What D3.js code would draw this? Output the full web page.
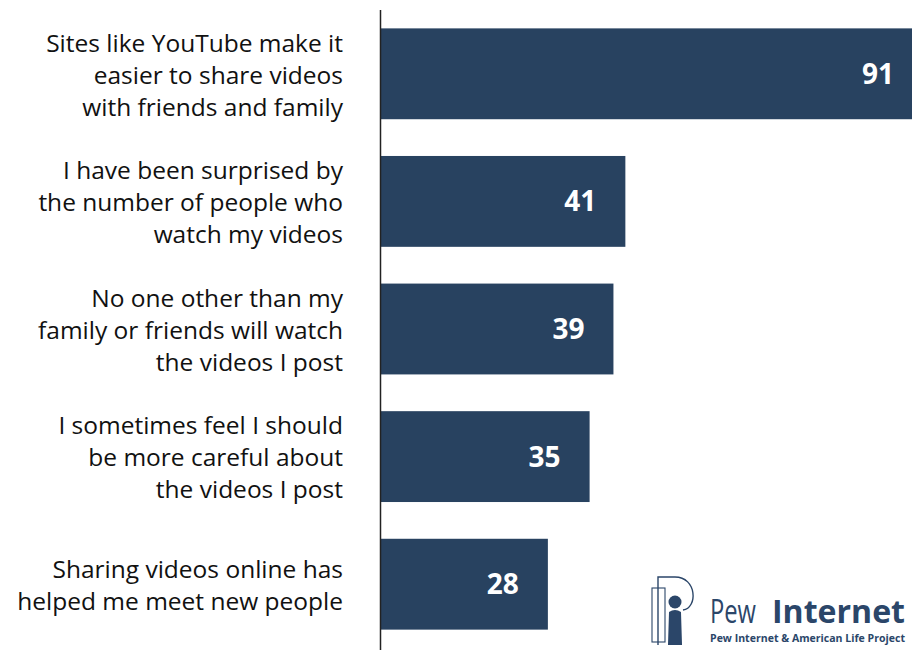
<!DOCTYPE html>
<html>
<head>
<meta charset="utf-8">
<script src="https://cdn.jsdelivr.net/npm/d3@7"></script>
<style>
  body { margin: 0; background: #fff; }
  svg { display: block; }
</style>
</head>
<body>
<div id="chart"></div>
<script>
const categories = [
  ["Sites like YouTube make it", "easier to share videos", "with friends and family"],
  ["I have been surprised by", "the number of people who", "watch my videos"],
  ["No one other than my", "family or friends will watch", "the videos I post"],
  ["I sometimes feel I should", "be more careful about", "the videos I post"],
  ["Sharing videos online has", "helped me meet new people"]
];
const values = [91, 41, 39, 35, 28];

const width = 912, height = 650;
const barColor = "#284260";
const logoColor = "#2b4669";

const svg = d3.select("#chart").append("svg")
  .attr("width", width)
  .attr("height", height);

const keys = categories.map((d, i) => i);

const y = d3.scaleBand()
  .domain(keys)
  .range([10, 648])
  .paddingInner(0.288)
  .paddingOuter(0.144);

const x = d3.scaleLinear()
  .domain([0, 100])
  .range([381, 977]);

// bars
svg.append("g")
  .selectAll("rect")
  .data(values)
  .enter()
  .append("rect")
  .attr("x", x(0))
  .attr("y", (d, i) => y(i))
  .attr("width", d => x(d) - x(0))
  .attr("height", y.bandwidth())
  .attr("fill", barColor);

// value labels
svg.append("g")
  .selectAll("text")
  .data(values)
  .enter()
  .append("text")
  .attr("x", d => Math.min(x(d), 923) - 29)
  .attr("y", (d, i) => y(i) + y.bandwidth() / 2)
  .attr("dy", "0.36em")
  .attr("text-anchor", "end")
  .style("font-family", "'Open Sans', sans-serif")
  .style("font-weight", "700")
  .style("font-size", "28px")
  .attr("fill", "#fff")
  .text(d => d);

// category labels
const lineH = 32;
const labels = svg.append("g")
  .selectAll("text")
  .data(categories)
  .enter()
  .append("text")
  .attr("text-anchor", "end")
  .style("font-family", "'Open Sans', sans-serif")
  .style("font-size", "24.5px")
  .attr("fill", "#111");

labels.each(function(lines, i) {
  const cy = y(i) + y.bandwidth() / 2;
  const start = cy - (lines.length - 1) * lineH / 2;
  d3.select(this).selectAll("tspan")
    .data(lines)
    .enter()
    .append("tspan")
    .attr("x", 343)
    .attr("y", (l, j) => start + j * lineH)
    .attr("dy", "0.4em")
    .text(l => l);
});

// axis line
svg.append("line")
  .attr("x1", 380.5).attr("x2", 380.5)
  .attr("y1", 10).attr("y2", 650)
  .attr("stroke", "#222")
  .attr("stroke-width", 1.5);

// Pew Internet logo
const logo = svg.append("g").attr("transform", "translate(650,574)");
logo.append("rect")
  .attr("x", 2).attr("y", 14).attr("width", 13).attr("height", 54)
  .attr("fill", "none").attr("stroke", logoColor).attr("stroke-width", 1.1);
logo.append("path")
  .attr("d", "M8,71 V3 H25 C47,3 48,34 33,36")
  .attr("fill", "none").attr("stroke", logoColor).attr("stroke-width", 1.4);
logo.append("circle")
  .attr("cx", 25).attr("cy", 28).attr("r", 6.5)
  .attr("fill", logoColor);
logo.append("path")
  .attr("d", "M18,71 L19,38 Q25,34 31,38 L32,71 Z")
  .attr("fill", logoColor);
logo.append("text")
  .attr("x", 60).attr("y", 49)
  .attr("textLength", 46)
  .attr("lengthAdjust", "spacingAndGlyphs")
  .style("font-family", "'Open Sans', sans-serif")
  .style("font-size", "33px")
  .style("font-weight", "400")
  .attr("fill", logoColor)
  .text("Pew");
logo.append("text")
  .attr("x", 122).attr("y", 49)
  .attr("textLength", 133)
  .attr("lengthAdjust", "spacingAndGlyphs")
  .style("font-family", "'Open Sans', sans-serif")
  .style("font-size", "32px")
  .style("font-weight", "700")
  .attr("fill", logoColor)
  .text("Internet");
logo.append("text")
  .attr("x", 60).attr("y", 68)
  .attr("textLength", 195)
  .attr("lengthAdjust", "spacingAndGlyphs")
  .style("font-family", "'Open Sans', sans-serif")
  .style("font-size", "11px")
  .style("font-weight", "700")
  .attr("fill", logoColor)
  .text("Pew Internet & American Life Project");
</script>
</body>
</html>
